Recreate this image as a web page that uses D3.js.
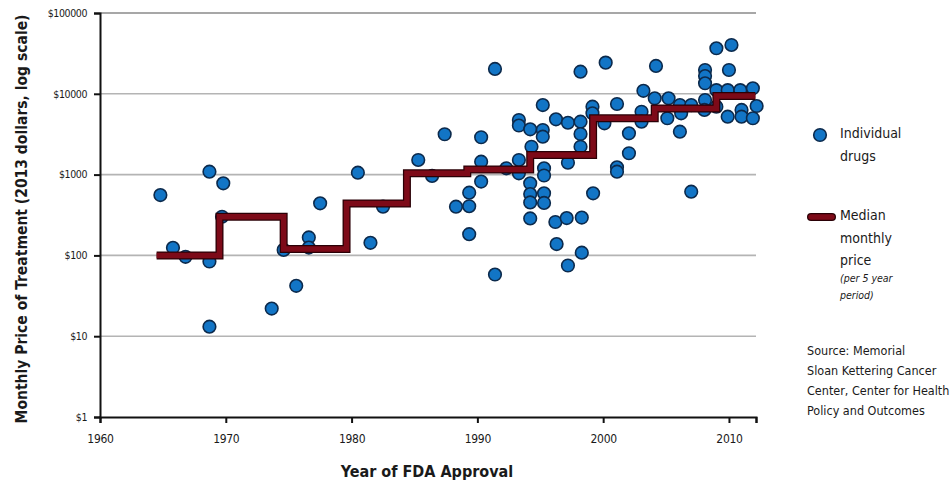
<!DOCTYPE html>
<html>
<head>
<meta charset="utf-8">
<title>Monthly price of cancer drugs</title>
<style>
  body { margin: 0; background: #fff; }
  svg { display: block; }
  text { font-family: "Liberation Sans Narrow", "DejaVu Sans Condensed", "Roboto", sans-serif; fill: #1a1a1a; }
</style>
</head>
<body>
<div id="chart"></div>
<script src="https://d3js.org/d3.v7.min.js"></script>
<script>
// individual drugs: year of FDA approval and monthly price (2013 dollars)
const drugYears = [
  1964.8, 1965.8, 1966.8, 1968.7, 1969.8, 1969.7, 1968.7, 1968.7, 1973.65, 1975.6,
  1974.6, 1976.6, 1976.6, 1977.5, 1980.5, 1981.5, 1982.5, 1985.3, 1986.4, 1987.4,
  1988.3, 1989.35, 1989.35, 1989.35, 1990.3, 1990.3, 1990.3, 1991.4, 1991.4, 1992.3,
  1993.3, 1993.3, 1993.3, 1993.3, 1994.2, 1994.3, 1994.2, 1994.2, 1994.2, 1994.2,
  1995.2, 1995.2, 1995.2, 1995.3, 1995.3, 1995.3, 1995.3, 1996.2, 1996.25, 1996.3,
  1997.2, 1997.2, 1997.1, 1997.2, 1998.2, 1998.2, 1998.2, 1998.2, 1998.3, 1998.3,
  1999.15, 1999.15, 1999.2, 2000.2, 2000.1, 2001.1, 2001.1, 2001.1, 2002.05, 2002.05,
  2003.05, 2003.05, 2003.2, 2004.2, 2004.1, 2005.2, 2005.1, 2006.1, 2006.2, 2006.1,
  2007.0, 2007.0, 2008.1, 2008.1, 2008.1, 2008.1, 2008.05, 2009.0, 2009.0, 2009.0,
  2010.2, 2010.0, 2009.9, 2009.9, 2010.9, 2011.0, 2011.0, 2011.9, 2012.2, 2011.9
];
const drugPrices = [
  558, 124, 96, 1086, 780, 301, 84, 13.1, 22, 42,
  117, 167, 125, 441, 1057, 143, 401, 1517, 962, 3158,
  401, 597, 406, 183, 2898, 1446, 820, 20300, 58, 1197,
  4742, 4050, 1517, 1038, 3638, 2213, 781, 575, 452, 287,
  7260, 3565, 2945, 1197, 975, 586, 446, 259, 4830, 138,
  4385, 1403, 290, 75, 4520, 3180, 2213, 18800, 294, 108,
  6920, 5740, 586, 24300, 4310, 7480, 1231, 1086, 3240, 1838,
  6000, 4520, 10900, 22100, 8790, 8790, 4980, 7260, 5740, 3400,
  7260, 614, 19700, 16600, 13500, 8380, 6310, 36600, 11100, 6920,
  40200, 19700, 11100, 5210, 11100, 6310, 5210, 11700, 7060, 4980
];

// median monthly price per 5 year period (step starts; last entry closes the line)
const medianYears = [1964.5, 1969.5, 1974.6, 1979.6, 1984.4, 1989.2, 1994.2, 1999.2, 2004.1, 2009.0, 2012.1];
const medianPrices = [100, 300, 120, 440, 1040, 1160, 1750, 4980, 6600, 9400, 9400];

const yTicks = [1, 10, 100, 1000, 10000, 100000];
const xTicks = [1960, 1970, 1980, 1990, 2000, 2010];

const sourceLines = ["Source: Memorial", "Sloan Kettering Cancer", "Center, Center for Health", "Policy and Outcomes"];

const svgWidth = 950, svgHeight = 483;
const plot = {left: 100, right: 756, top: 13, bottom: 417};

const svg = d3.select('#chart').append('svg')
  .attr('width', svgWidth)
  .attr('height', svgHeight);

const x = d3.scaleLinear().domain([1960, 2012.15]).range([plot.left, plot.right]);
const y = d3.scaleLog().domain([1, 100000]).range([plot.bottom, plot.top]);

// gridlines
svg.append('g')
  .selectAll('line')
  .data(yTicks.slice(1))
  .join('line')
  .attr('x1', plot.left).attr('x2', plot.right)
  .attr('y1', d => y(d)).attr('y2', d => y(d))
  .attr('stroke', d => d === 100000 ? '#8a8a8a' : '#b4b4b4')
  .attr('stroke-width', 1.6);

// y axis
const yAxis = svg.append('g')
  .attr('transform', `translate(${plot.left},0)`)
  .call(d3.axisLeft(y).tickValues(yTicks).tickFormat(d => '$' + d).tickSize(6).tickPadding(7));
yAxis.select('.domain').attr('stroke', '#111').attr('stroke-width', 2);
yAxis.selectAll('.tick line').attr('stroke', '#111').attr('stroke-width', 2);
yAxis.selectAll('.tick text').attr('font-size', 10.5).attr('font-family', null).attr('fill', '#1a1a1a')
  .attr('letter-spacing', -0.4);

// x axis
const xAxis = svg.append('g')
  .attr('transform', `translate(0,${plot.bottom})`)
  .call(d3.axisBottom(x).tickValues([...xTicks, 2012.15]).tickFormat(d => xTicks.includes(d) ? d : '').tickSize(6).tickPadding(11));
xAxis.select('.domain').attr('stroke', '#111').attr('stroke-width', 2);
xAxis.selectAll('.tick line').attr('stroke', '#111').attr('stroke-width', 2);
xAxis.selectAll('.tick text').attr('font-size', 12).attr('font-family', null).attr('fill', '#1a1a1a')
  .attr('letter-spacing', -0.3);

// points
const drugs = drugYears.map((yr, i) => ({year: yr, price: drugPrices[i]}));
svg.append('g')
  .selectAll('circle')
  .data(drugs)
  .join('circle')
  .attr('cx', d => x(d.year))
  .attr('cy', d => y(d.price))
  .attr('r', 6.3)
  .attr('fill', '#1275c6')
  .attr('stroke', '#0c2a4c')
  .attr('stroke-width', 1.6);

// median step line
const medians = medianYears.map((yr, i) => ({year: yr, price: medianPrices[i]}));
const step = d3.line()
  .x(d => x(d.year))
  .y(d => y(d.price))
  .curve(d3.curveStepAfter);

svg.append('path')
  .attr('d', step(medians))
  .attr('fill', 'none')
  .attr('stroke', '#2a0006')
  .attr('stroke-width', 8)
  .attr('stroke-linejoin', 'miter');
svg.append('path')
  .attr('d', step(medians))
  .attr('fill', 'none')
  .attr('stroke', '#7d0a18')
  .attr('stroke-width', 5.5)
  .attr('stroke-linejoin', 'miter');

// axis titles
svg.append('text')
  .attr('transform', `translate(27,${(plot.top + plot.bottom) / 2 + 4}) rotate(-90)`)
  .attr('text-anchor', 'middle')
  .attr('font-size', 15.5)
  .attr('font-weight', 'bold')
  .text('Monthly Price of Treatment (2013 dollars, log scale)');

svg.append('text')
  .attr('x', 427).attr('y', 477)
  .attr('text-anchor', 'middle')
  .attr('font-size', 16)
  .attr('font-weight', 'bold')
  .text('Year of FDA Approval');

// legend
const legend = svg.append('g');
legend.append('circle')
  .attr('cx', 820).attr('cy', 135).attr('r', 6.3)
  .attr('fill', '#1275c6').attr('stroke', '#0c2a4c').attr('stroke-width', 1.6);
legend.append('text').attr('x', 840).attr('y', 138).attr('font-size', 14).text('Individual');
legend.append('text').attr('x', 840).attr('y', 161).attr('font-size', 14).text('drugs');

legend.append('line')
  .attr('x1', 811).attr('x2', 832).attr('y1', 217).attr('y2', 217)
  .attr('stroke', '#2a0006').attr('stroke-width', 8).attr('stroke-linecap', 'round');
legend.append('line')
  .attr('x1', 811).attr('x2', 832).attr('y1', 217).attr('y2', 217)
  .attr('stroke', '#7d0a18').attr('stroke-width', 5.5).attr('stroke-linecap', 'round');
['Median', 'monthly', 'price'].forEach((t, i) => {
  legend.append('text').attr('x', 840).attr('y', 220 + i * 22.5).attr('font-size', 14).text(t);
});
['(per 5 year', 'period)'].forEach((t, i) => {
  legend.append('text').attr('x', 840).attr('y', 282 + i * 17)
    .attr('font-size', 10.5).attr('font-style', 'italic').text(t);
});

// source note
svg.append('g')
  .selectAll('text')
  .data(sourceLines)
  .join('text')
  .attr('x', 807)
  .attr('y', (d, i) => 355 + i * 20)
  .attr('font-size', 12.5)
  .text(d => d);
</script>
</body>
</html>
